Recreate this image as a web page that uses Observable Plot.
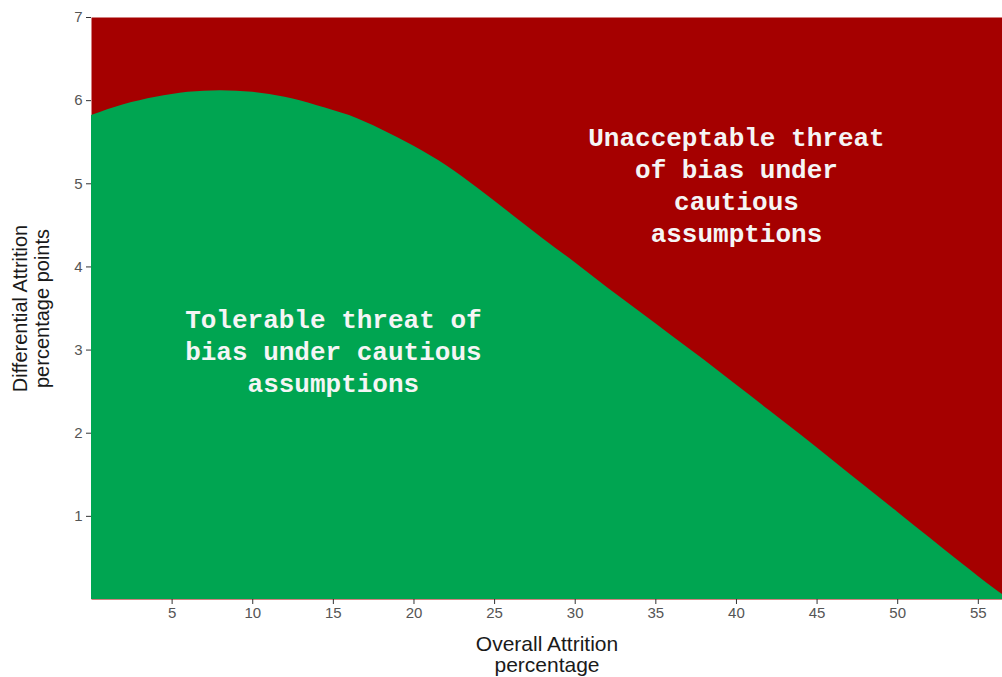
<!DOCTYPE html>
<html>
<head>
<meta charset="utf-8">
<script src="https://cdn.jsdelivr.net/npm/d3@7"></script>
<script src="https://cdn.jsdelivr.net/npm/@observablehq/plot@0.6"></script>
<style>
  body { margin: 0; background: #ffffff; }
  #chart svg { display: block; }
</style>
</head>
<body>
<div id="chart"></div>
<script>
// Boundary between tolerable and unacceptable threat of bias (cautious assumptions)
const overallAttrition = [0, 2, 4, 6, 8, 10, 12, 14, 16, 18, 20, 22, 24, 26, 28, 30, 32, 34, 36, 38, 40, 42, 44, 46, 48, 50, 52, 54, 56, 56.5];
const differentialAttrition = [5.82, 5.95, 6.04, 6.10, 6.12, 6.10, 6.04, 5.94, 5.82, 5.65, 5.45, 5.22, 4.94, 4.64, 4.34, 4.05, 3.75, 3.46, 3.17, 2.88, 2.58, 2.28, 1.98, 1.67, 1.36, 1.05, 0.74, 0.43, 0.13, 0.06];

const xTicks = [5, 10, 15, 20, 25, 30, 35, 40, 45, 50, 55];
const yTicks = [1, 2, 3, 4, 5, 6, 7];
const xDomain = [0, 56.5];
const yDomain = [0, 7];

const annotationText = [
  "Tolerable threat of\nbias under cautious\nassumptions",
  "Unacceptable threat\nof bias under\ncautious\nassumptions"
];
const annotationX = [15, 40];
const annotationY = [3, 5];

const xTitle = ["Overall Attrition", "percentage"];
const yTitle = ["Differential Attrition", "percentage points"];

const boundary = overallAttrition.map((x, i) => ({x, y: differentialAttrition[i]}));
const annotations = annotationText.map((t, i) => ({t, x: annotationX[i], y: annotationY[i]}));

const chart = Plot.plot({
  width: 1002,
  height: 677,
  marginLeft: 91,
  marginRight: 0,
  marginTop: 17,
  marginBottom: 78,
  style: {fontFamily: "'Liberation Sans', Arial, sans-serif", fontSize: "15px", background: "#ffffff"},
  x: {domain: xDomain, ticks: xTicks},
  y: {domain: yDomain, ticks: yTicks},
  marks: [
    Plot.frame({fill: "#a50000", stroke: null}),
    Plot.areaY(boundary, {x: "x", y: "y", fill: "#00a551", curve: "monotone-x"}),
    Plot.text(annotations, {
      x: "x", y: "y", text: "t",
      fill: "#f5f5f5",
      fontFamily: "'Liberation Mono', 'DejaVu Sans Mono', monospace",
      fontWeight: "bold",
      fontSize: 26,
      lineHeight: 1.23,
      lineAnchor: "middle",
      textAnchor: "middle"
    }),
    Plot.axisX({ticks: xTicks, tickFormat: d3.format("d"), tickSize: 5, tickPadding: 3, label: null, stroke: "#333333", fill: "#555555", fontSize: 15}),
    Plot.axisY({ticks: yTicks, tickFormat: d3.format("d"), tickSize: 5, tickPadding: 4, label: null, stroke: "#333333", fill: "#555555", fontSize: 15}),
    Plot.text([xTitle[0]], {
      frameAnchor: "bottom", dy: 45, text: d => d,
      fontSize: 21, letterSpacing: "-0.3px", lineAnchor: "middle", textAnchor: "middle", fill: "#1a1a1a"
    }),
    Plot.text([xTitle[1]], {
      frameAnchor: "bottom", dy: 66, text: d => d,
      fontSize: 21, lineAnchor: "middle", textAnchor: "middle", fill: "#1a1a1a"
    }),
    Plot.text([yTitle[0]], {
      frameAnchor: "left", dx: -71, rotate: -90, text: d => d,
      fontSize: 20, lineAnchor: "middle", textAnchor: "middle", fill: "#1a1a1a"
    }),
    Plot.text([yTitle[1]], {
      frameAnchor: "left", dx: -49, rotate: -90, text: d => d,
      fontSize: 20, lineAnchor: "middle", textAnchor: "middle", fill: "#1a1a1a"
    })
  ]
});

document.getElementById("chart").appendChild(chart);
</script>
</body>
</html>
